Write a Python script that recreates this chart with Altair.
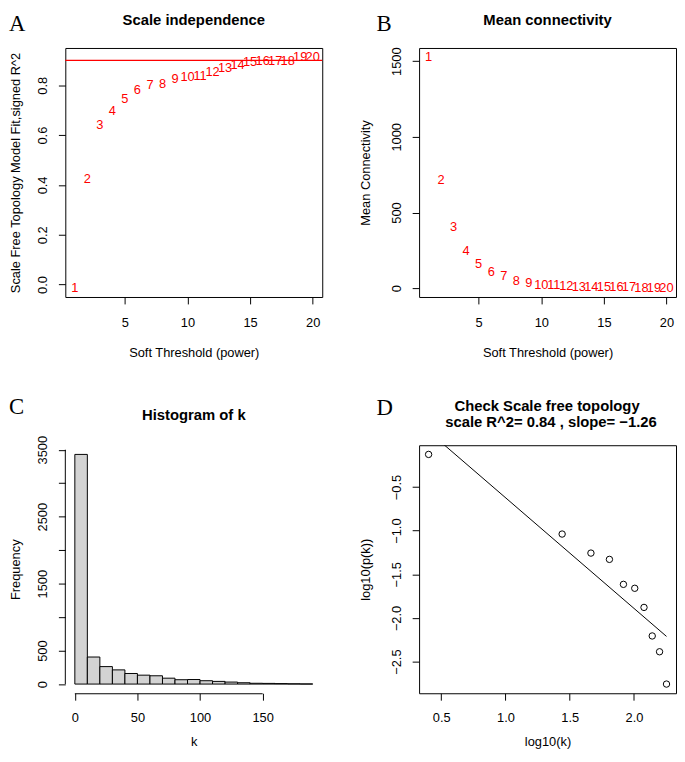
import altair as alt
import pandas as pd

# ---------------- data ----------------
powers = list(range(1, 21))
sft_r2 = [-0.013, 0.425, 0.640, 0.696, 0.746, 0.782, 0.802, 0.806, 0.825, 0.833,
          0.837, 0.853, 0.869, 0.883, 0.893, 0.899, 0.899, 0.897, 0.913, 0.913]
mean_k = [1526, 717, 405, 247, 159, 109, 79, 50, 35, 24,
          18, 14, 11, 9, 7, 6, 5, 4, 3, 3]
r2_cut = [0.9]

hist_lo = list(range(0, 190, 10))
hist_hi = list(range(10, 200, 10))
hist_count = [3430, 404, 261, 212, 158, 133, 124, 88, 65, 68,
              50, 40, 30, 20, 12, 10, 7, 4, 2]

log_k = [0.402, 1.441, 1.665, 1.809, 1.918, 2.006, 2.078, 2.142, 2.199, 2.253]
log_pk = [-0.127, -1.039, -1.257, -1.329, -1.615, -1.660, -1.879, -2.206, -2.387, -2.757]

xticks_power = [5, 10, 15, 20]
yticks_r2 = [0.0, 0.2, 0.4, 0.6, 0.8]
yticks_k = [0, 500, 1000, 1500]
xticks_hist = [0, 50, 100, 150]
yticks_hist = [0, 500, 1000, 1500, 2000, 2500, 3000, 3500]
ylabels_hist = ["0", "500", "", "1500", "", "2500", "", "3500"]
xticks_log = [0.5, 1.0, 1.5, 2.0]
yticks_log = [-2.5, -2.0, -1.5, -1.0, -0.5]

title_a = "Scale independence"
title_b = "Mean connectivity"
title_c = "Histogram of k"
title_d1 = "Check Scale free topology"
title_d2 = "scale R^2= 0.84 , slope= \u22121.26"
xlab_power = "Soft Threshold (power)"
ylab_a = "Scale Free Topology Model Fit,signed R^2"
ylab_b = "Mean Connectivity"
xlab_c = "k"
ylab_c = "Frequency"
xlab_d = "log10(k)"
ylab_d = "log10(p(k))"

# ---------------- layout ----------------
W = 260
H1 = 252
H2 = 251
FONT = "Liberation Sans"
SERIF = "Liberation Serif"


def rrange(vals):
    lo, hi = min(vals), max(vals)
    d = 0.04 * (hi - lo)
    return [lo - d, hi + d]


def xaxis(values, fmt, title, pad, ty):
    return alt.Axis(values=values, format=fmt, title=title, labelPadding=pad,
                    labelBaseline="top", labelAngle=0, labelFlush=False,
                    labelOverlap=False, titleY=ty, titleBaseline="alphabetic")


def yaxis(values, fmt, title, tx, h, expr=None):
    kw = dict(values=values, format=fmt, title=title, labelAngle=270,
              labelAlign="center", labelBaseline="bottom", labelPadding=9,
              labelFlush=False, labelOverlap=False, titleX=tx, titleY=h / 2,
              titleAngle=270, titleAlign="center", titleBaseline="middle")
    if expr is not None:
        kw["labelExpr"] = expr
    return alt.Axis(**kw)


def text_layer(txt, x, y, size, weight="normal", font=FONT, align="center",
               baseline="alphabetic"):
    return alt.Chart(pd.DataFrame({"t": [txt]})).mark_text(
        font=font, fontSize=size, fontWeight=weight, align=align,
        baseline=baseline, color="black"
    ).encode(text="t:N", x=alt.value(x), y=alt.value(y))


# ---- Panel A ----
dfA = pd.DataFrame({"power": powers, "r2": sft_r2})
xsA = alt.Scale(domain=rrange(powers), nice=False, zero=False)
ysA = alt.Scale(domain=rrange(sft_r2), nice=False, zero=False)
axA_x = xaxis(xticks_power, "d", xlab_power, 12.5, 60.5)
axA_y = yaxis(yticks_r2, ".1f", ylab_a, -50, H1)
pA = alt.Chart(dfA).mark_text(font=FONT, fontSize=13, color="#ff0000",
                              align="center", baseline="middle").encode(
    x=alt.X("power:Q", scale=xsA, axis=axA_x),
    y=alt.Y("r2:Q", scale=ysA, axis=axA_y),
    text=alt.Text("power:Q", format="d"),
)
ruleA = alt.Chart(pd.DataFrame({"r2": r2_cut})).mark_rule(
    color="#ff0000", strokeWidth=1.3).encode(y=alt.Y("r2:Q", scale=ysA, axis=axA_y))
A = alt.layer(
    pA, ruleA,
    text_layer(title_a, W / 2, -23, 15, "bold"),
    text_layer("A", -57, -35, 23, font=SERIF, align="left", baseline="top"),
).properties(width=W, height=H1)

# ---- Panel B ----
dfB = pd.DataFrame({"power": powers, "k": mean_k})
ysB = alt.Scale(domain=rrange(mean_k), nice=False, zero=False)
pB = alt.Chart(dfB).mark_text(font=FONT, fontSize=13, color="#ff0000",
                              align="center", baseline="middle").encode(
    x=alt.X("power:Q", scale=xsA, axis=xaxis(xticks_power, "d", xlab_power, 12.5, 60.5)),
    y=alt.Y("k:Q", scale=ysB, axis=yaxis(yticks_k, "d", ylab_b, -54.5, H1)),
    text=alt.Text("power:Q", format="d"),
)
B = alt.layer(
    pB,
    text_layer(title_b, W / 2, -23, 15, "bold"),
    text_layer("B", -43, -35, 23, font=SERIF, align="left", baseline="top"),
).properties(width=W, height=H1)

# ---- Panel C ----
dfC = pd.DataFrame({"lo": hist_lo, "hi": hist_hi, "n": hist_count})
xsC = alt.Scale(domain=rrange(hist_lo + hist_hi), nice=False, zero=False)
ysC = alt.Scale(domain=rrange([0] + hist_count), nice=False, zero=False)
hidden = ",".join(str(v) for v, l in zip(yticks_hist, ylabels_hist) if l == "")
exprC = "indexof([" + hidden + "], datum.value) >= 0 ? '' : datum.label"
axC_x = xaxis(xticks_hist, "d", xlab_c, 11.5, 52.5)
axC_y = yaxis(yticks_hist, "d", ylab_c, -50, H2, exprC)
bars = alt.Chart(dfC).mark_rect(fill="#d3d3d3", stroke="black", strokeWidth=1).encode(
    x=alt.X("lo:Q", scale=xsC, axis=axC_x),
    x2="hi:Q",
    y=alt.Y("n:Q", scale=ysC, axis=axC_y),
    y2=alt.datum(0),
)
xlineC = alt.Chart(pd.DataFrame({"lo": [min(xticks_hist)], "hi": [max(xticks_hist)]})).mark_rule(
    color="black", strokeWidth=1).encode(
    x=alt.X("lo:Q", scale=xsC, axis=axC_x), x2="hi:Q", y=alt.value(H2 + 0.5))
ylineC = alt.Chart(pd.DataFrame({"n": [min(yticks_hist)], "n2": [max(yticks_hist)]})).mark_rule(
    color="black", strokeWidth=1).encode(
    y=alt.Y("n:Q", scale=ysC, axis=axC_y), y2="n2:Q", x=alt.value(0))
C = alt.layer(
    bars, xlineC, ylineC,
    text_layer(title_c, W / 2, -25.5, 15, "bold"),
    text_layer("C", -57, -32, 23, font=SERIF, align="left"),
).properties(width=W, height=H2, view=alt.ViewBackground(stroke="transparent"))

# ---- Panel D ----
dfD = pd.DataFrame({"lx": log_k, "ly": log_pk})
xsD = alt.Scale(domain=rrange(log_k), nice=False, zero=False)
ysD = alt.Scale(domain=rrange(log_pk), nice=False, zero=False)
axD_x = xaxis(xticks_log, ".1f", xlab_d, 11.5, 52.5)
axD_y = yaxis(yticks_log, ".1f", ylab_d, -54.5, H2)
ptsD = alt.Chart(dfD).mark_point(shape="circle", filled=False, color="black",
                                 size=42, strokeWidth=1, opacity=1).encode(
    x=alt.X("lx:Q", scale=xsD, axis=axD_x),
    y=alt.Y("ly:Q", scale=ysD, axis=axD_y),
)
fitD = alt.Chart(dfD).transform_regression("lx", "ly").mark_line(
    color="black", strokeWidth=1, clip=True).encode(
    x=alt.X("lx:Q", scale=xsD, axis=axD_x),
    y=alt.Y("ly:Q", scale=ysD, axis=axD_y),
)
D = alt.layer(
    ptsD, fitD,
    text_layer(title_d1, 129.5, -34.5, 15, "bold"),
    text_layer(title_d2, 133.5, -18, 15, "bold"),
    text_layer("D", -43, -31, 23, font=SERIF, align="left"),
).properties(width=W, height=H2)

chart = alt.concat(
    A, B, C, D, columns=2, bounds="flush",
    spacing=alt.RowColnumber(row=150, column=98),
).properties(
    padding=0, background="white"
).configure_view(
    stroke="black", strokeWidth=1
).configure_axis(
    domain=False, grid=False, ticks=True, tickColor="black", tickSize=7, tickWidth=1,
    labelColor="black", labelFont=FONT, labelFontSize=13,
    titleFont=FONT, titleFontSize=13, titleFontWeight="normal", titleColor="black",
)

chart.save("out.html", embed_options={"renderer": "svg", "actions": False})
